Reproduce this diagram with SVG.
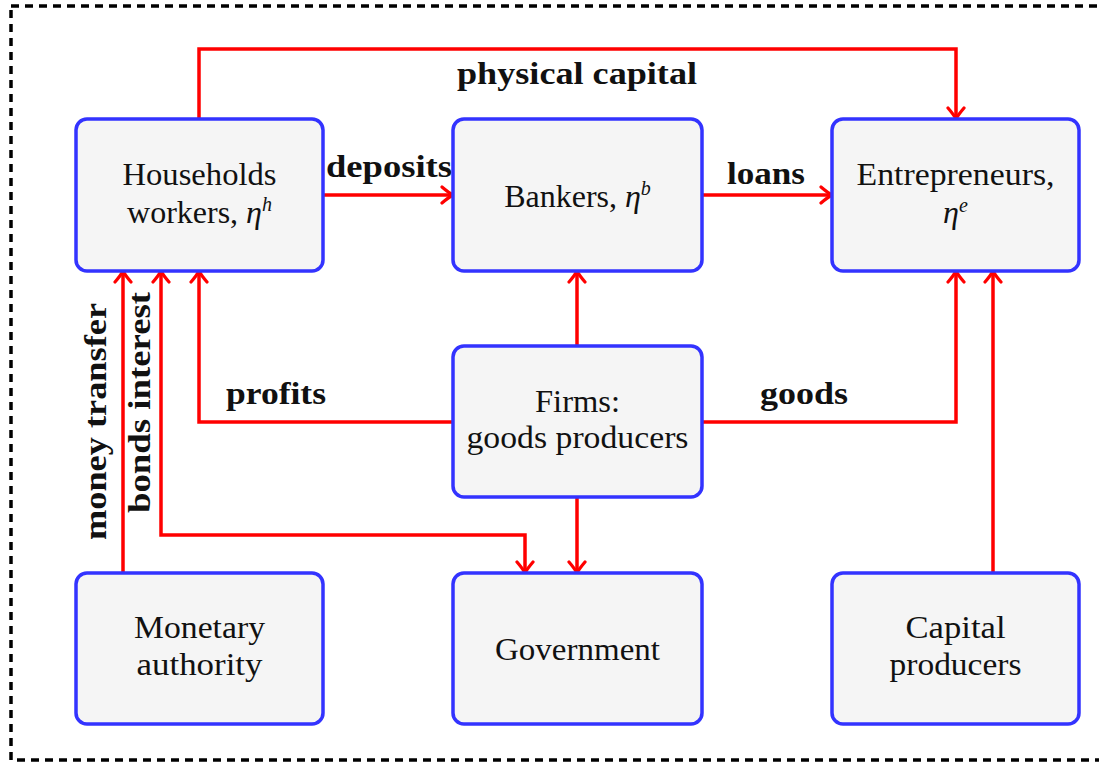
<svg xmlns="http://www.w3.org/2000/svg" width="1099" height="764" viewBox="0 0 1099 764">
<style>
.box{fill:#f5f5f5;stroke:#3333ff;stroke-width:3.5}
.lbl{font-family:"Liberation Serif","Times New Roman",serif;font-size:32px;fill:#111;text-anchor:middle}
.elbl{font-family:"Liberation Serif","Times New Roman",serif;font-size:32px;font-weight:bold;fill:#111;text-anchor:middle}
.con{fill:none;stroke:#ff0000;stroke-width:3.5;stroke-linejoin:miter}
.it{font-style:italic}
.sup{font-style:italic;font-size:20px}
</style>
<defs>
<marker id="arr" markerUnits="userSpaceOnUse" viewBox="-14 -11 16 22" refX="0" refY="0" markerWidth="16" markerHeight="22" orient="auto-start-reverse">
<path d="M-11,-8 Q-4,-2 0,0 Q-4,2 -11,8" fill="none" stroke="#ff0000" stroke-width="3.2" stroke-linecap="round"/>
</marker>
</defs>
<rect x="11" y="6" width="1100" height="754" fill="none" stroke="#000" stroke-width="3.5" stroke-dasharray="8 6"/>

<g id="connectors">
<polyline class="con" points="199,119 199,49 956,49 956,119" marker-end="url(#arr)"/>
<line class="con" x1="323" y1="195" x2="453" y2="195" marker-end="url(#arr)"/>
<line class="con" x1="702" y1="195" x2="832" y2="195" marker-end="url(#arr)"/>
<line class="con" x1="577" y1="346" x2="577" y2="271" marker-end="url(#arr)"/>
<polyline class="con" points="453,422 199,422 199,271" marker-end="url(#arr)"/>
<polyline class="con" points="702,422 956,422 956,271" marker-end="url(#arr)"/>
<line class="con" x1="993" y1="573" x2="993" y2="271" marker-end="url(#arr)"/>
<line class="con" x1="577" y1="497" x2="577" y2="573" marker-end="url(#arr)"/>
<polyline class="con" points="161,271 161,535 525,535 525,573" marker-start="url(#arr)" marker-end="url(#arr)"/>
<line class="con" x1="123" y1="573" x2="123" y2="271" marker-end="url(#arr)"/>
<text class="elbl" x="577" y="84" textLength="240" lengthAdjust="spacingAndGlyphs">physical capital</text>
<text class="elbl" x="389" y="176.5" textLength="126" lengthAdjust="spacingAndGlyphs">deposits</text>
<text class="elbl" x="766" y="183.5" textLength="78" lengthAdjust="spacingAndGlyphs">loans</text>
<text class="elbl" x="276" y="403.5" textLength="100" lengthAdjust="spacingAndGlyphs">profits</text>
<text class="elbl" x="804" y="403.5" textLength="88" lengthAdjust="spacingAndGlyphs">goods</text>
<text class="elbl" transform="translate(106,421.5) rotate(-90)" textLength="237" lengthAdjust="spacingAndGlyphs">money transfer</text>
<text class="elbl" transform="translate(150,402.5) rotate(-90)" textLength="221" lengthAdjust="spacingAndGlyphs">bonds interest</text>
</g>

<g id="households">
<rect class="box" x="76" y="119" width="247" height="152" rx="11"/>
<text class="lbl" x="199.5" y="184.5" textLength="154" lengthAdjust="spacingAndGlyphs">Households</text>
<text class="lbl" x="199.5" y="223">workers, <tspan class="it">η</tspan><tspan class="sup" dy="-12">h</tspan></text>
</g>
<g id="bankers">
<rect class="box" x="453" y="119" width="249" height="152" rx="11"/>
<text class="lbl" x="577.5" y="206.5">Bankers, <tspan class="it">η</tspan><tspan class="sup" dy="-12">b</tspan></text>
</g>
<g id="entrepreneurs">
<rect class="box" x="832" y="119" width="247" height="152" rx="11"/>
<text class="lbl" x="955.5" y="185" textLength="198" lengthAdjust="spacingAndGlyphs">Entrepreneurs,</text>
<text class="lbl" x="955.5" y="223"><tspan class="it">η</tspan><tspan class="sup" dy="-11">e</tspan></text>
</g>
<g id="firms">
<rect class="box" x="453" y="346" width="249" height="151" rx="11"/>
<text class="lbl" x="577.5" y="411.5" textLength="85" lengthAdjust="spacingAndGlyphs">Firms:</text>
<text class="lbl" x="577.5" y="448" textLength="222" lengthAdjust="spacingAndGlyphs">goods producers</text>
</g>
<g id="monetary">
<rect class="box" x="76" y="573" width="247" height="151" rx="11"/>
<text class="lbl" x="199.5" y="637.5" textLength="131" lengthAdjust="spacingAndGlyphs">Monetary</text>
<text class="lbl" x="199.5" y="675" textLength="126" lengthAdjust="spacingAndGlyphs">authority</text>
</g>
<g id="government">
<rect class="box" x="453" y="573" width="249" height="151" rx="11"/>
<text class="lbl" x="577.5" y="659.5" textLength="165" lengthAdjust="spacingAndGlyphs">Government</text>
</g>
<g id="capital">
<rect class="box" x="832" y="573" width="247" height="151" rx="11"/>
<text class="lbl" x="955.5" y="637.5" textLength="100" lengthAdjust="spacingAndGlyphs">Capital</text>
<text class="lbl" x="955.5" y="675" textLength="132" lengthAdjust="spacingAndGlyphs">producers</text>
</g>
</svg>
